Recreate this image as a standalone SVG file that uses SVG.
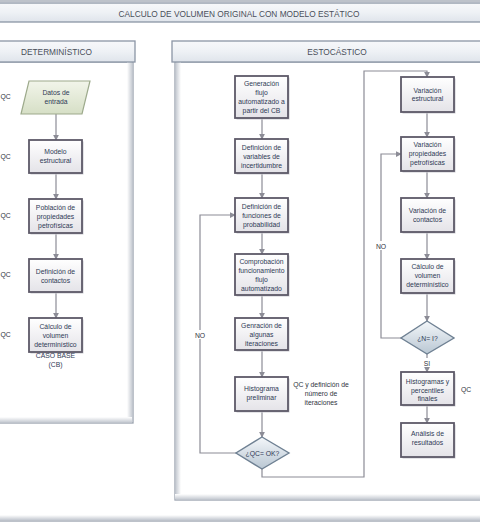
<svg xmlns="http://www.w3.org/2000/svg" width="480" height="527" viewBox="0 0 480 527">
<defs>
<linearGradient id="hdr" x1="0" y1="0" x2="0" y2="1">
<stop offset="0" stop-color="#f7f8fa"/><stop offset="0.5" stop-color="#eef1f5"/><stop offset="1" stop-color="#dfe4eb"/>
</linearGradient>
<linearGradient id="box" x1="0" y1="0" x2="0" y2="1">
<stop offset="0" stop-color="#ffffff"/><stop offset="1" stop-color="#e4e3e8"/>
</linearGradient>
<linearGradient id="para" x1="0" y1="0" x2="0" y2="1">
<stop offset="0" stop-color="#f2f5ea"/><stop offset="1" stop-color="#d6dfc6"/>
</linearGradient>
<linearGradient id="dia" x1="0" y1="0" x2="0" y2="1">
<stop offset="0" stop-color="#f4f7fa"/><stop offset="1" stop-color="#b9c7d3"/>
</linearGradient>
<linearGradient id="edgeR" x1="0" y1="0" x2="1" y2="0">
<stop offset="0" stop-color="#ffffff"/><stop offset="1" stop-color="#c3c8d0"/>
</linearGradient>
<linearGradient id="edgeL" x1="1" y1="0" x2="0" y2="0">
<stop offset="0" stop-color="#ffffff"/><stop offset="1" stop-color="#c3c8d0"/>
</linearGradient>
<linearGradient id="edgeB" x1="0" y1="0" x2="0" y2="1">
<stop offset="0" stop-color="#ffffff"/><stop offset="1" stop-color="#c3c8d0"/>
</linearGradient>
<marker id="arr" viewBox="0 0 8 8" refX="7" refY="4" markerWidth="6" markerHeight="6" orient="auto" markerUnits="userSpaceOnUse">
<path d="M0,0 L8,4 L0,8 z" fill="#8c8c96"/>
</marker>
</defs>
<style>
.hdr{fill:url(#hdr);stroke:#8b95a5;stroke-width:1.3}
.box{fill:url(#box);stroke:#5d5968;stroke-width:1.8}
.shadow{fill:#c9c9cf}
.para{fill:url(#para);stroke:#9daa8c;stroke-width:1.2}
.dia{fill:url(#dia);stroke:#6f8193;stroke-width:1.4}
.t{font-family:"Liberation Sans",Arial,sans-serif;font-size:6.8px;fill:#2f3a55;text-anchor:middle}
.h{font-family:"Liberation Sans",Arial,sans-serif;font-size:8.3px;fill:#4a4f5a;text-anchor:middle}
.l{font-family:"Liberation Sans",Arial,sans-serif;font-size:6.8px;fill:#2f3440;text-anchor:middle}
.q{font-family:"Liberation Sans",Arial,sans-serif;font-size:6.8px;fill:#2f3440;text-anchor:start}
.ca{fill:none;stroke:#8c8c96;stroke-width:1.2;marker-end:url(#arr)}
</style>

<!-- outer frame -->
<g id="outer">
<rect x="-5" y="1" width="490" height="520" fill="#ffffff" stroke="#9aa2ae" stroke-width="1.3"/>
<rect x="-5" y="515" width="490" height="5" fill="url(#edgeB)"/>
<rect x="-5" y="3" width="490" height="19" class="hdr"/>
<text class="h" x="239" y="16.8">CALCULO DE VOLUMEN ORIGINAL CON MODELO ESTÁTICO</text>
</g>

<!-- deterministic panel -->
<g id="panel-det">
<rect x="-5" y="62" width="138" height="361" fill="#ffffff" stroke="#9aa2ae" stroke-width="1.3"/>
<rect x="127" y="62" width="5.5" height="360" fill="url(#edgeR)"/>
<rect x="-5" y="417" width="137" height="5.5" fill="url(#edgeB)"/>
<rect x="-5" y="41" width="140" height="21" class="hdr"/>
<text class="h" x="56.5" y="55">DETERMINÍSTICO</text>
</g>

<!-- stochastic panel -->
<g id="panel-sto">
<rect x="175" y="62" width="310" height="438" fill="#ffffff" stroke="#9aa2ae" stroke-width="1.3"/>
<rect x="175.5" y="62" width="5.5" height="437" fill="url(#edgeL)"/>
<rect x="175" y="494" width="310" height="5.5" fill="url(#edgeB)"/>
<rect x="172" y="41" width="313" height="21" class="hdr"/>
<text class="h" x="337" y="55">ESTOCÁSTICO</text>
</g>

<!-- connectors -->
<g id="connectors">
<path class="ca" d="M56,114 V140"/>
<path class="ca" d="M56,173 V199"/>
<path class="ca" d="M56,233 V259"/>
<path class="ca" d="M56,292 V318"/>

<path class="ca" d="M262,118 V139"/>
<path class="ca" d="M262,173 V198"/>
<path class="ca" d="M262,232 V254"/>
<path class="ca" d="M262,295 V318"/>
<path class="ca" d="M262,350 V377"/>
<path class="ca" d="M262,411 V437"/>
<path class="ca" d="M236,453 H200 V215 H235"/>
<path class="ca" d="M262,469 V477 H364 V71 H427 V77"/>

<path class="ca" d="M427,112 V137"/>
<path class="ca" d="M427,171 V198"/>
<path class="ca" d="M427,232 V259"/>
<path class="ca" d="M427,293 V321"/>
<path class="ca" d="M427,354 V372"/>
<path class="ca" d="M427,405 V423"/>
<path class="ca" d="M401,338 H381 V154 H401"/>

<rect x="193" y="330" width="14" height="9" fill="#ffffff"/>
<text class="l" x="200" y="337.5">NO</text>
<rect x="374" y="241" width="14" height="9" fill="#ffffff"/>
<text class="l" x="381" y="248.5">NO</text>
<rect x="421" y="358" width="12" height="9" fill="#ffffff"/>
<text class="l" x="427" y="365.5">SI</text>
</g>

<!-- deterministic nodes -->
<g id="d-datos">
<polygon class="para" points="29,81 90,81 82,114 21,114"/>
<text class="t" x="56" y="95">Datos de</text>
<text class="t" x="56" y="104">entrada</text>
</g>
<g id="d-modelo">
<rect class="shadow" x="30.5" y="141.5" width="53" height="33"/>
<rect class="box" x="29" y="140" width="53" height="33"/>
<text class="t" x="55.5" y="154">Modelo</text>
<text class="t" x="55.5" y="163">estructural</text>
</g>
<g id="d-poblacion">
<rect class="shadow" x="30.5" y="200.5" width="53" height="34"/>
<rect class="box" x="29" y="199" width="53" height="34"/>
<text class="t" x="55.5" y="210">Población de</text>
<text class="t" x="55.5" y="219">propiedades</text>
<text class="t" x="55.5" y="228">petrofísicas</text>
</g>
<g id="d-contactos">
<rect class="shadow" x="30.5" y="260.5" width="53" height="33"/>
<rect class="box" x="29" y="259" width="53" height="33"/>
<text class="t" x="55.5" y="274">Definición de</text>
<text class="t" x="55.5" y="283">contactos</text>
</g>
<g id="d-calculo">
<rect class="shadow" x="30.5" y="319.5" width="53" height="34"/>
<rect class="box" x="29" y="318" width="53" height="34"/>
<text class="t" x="55.5" y="329">Cálculo de</text>
<text class="t" x="55.5" y="338">volumen</text>
<text class="t" x="55.5" y="347">determinístico</text>
<text class="t" x="55.5" y="357.5">CASO BASE</text>
<text class="t" x="55.5" y="366.5">(CB)</text>
</g>
<g id="d-qc">
<text class="q" x="0.5" y="99">QC</text>
<text class="q" x="0.5" y="159">QC</text>
<text class="q" x="0.5" y="218">QC</text>
<text class="q" x="0.5" y="277">QC</text>
<text class="q" x="0.5" y="337">QC</text>
</g>

<!-- stochastic column 1 -->
<g id="s-generacion">
<rect class="shadow" x="236.5" y="77.5" width="53" height="42"/>
<rect class="box" x="235" y="76" width="53" height="42"/>
<text class="t" x="261.5" y="86">Generación</text>
<text class="t" x="261.5" y="94.5">flujo</text>
<text class="t" x="261.5" y="104">automatizado a</text>
<text class="t" x="261.5" y="113">partir del CB</text>
</g>
<g id="s-variables">
<rect class="shadow" x="236.5" y="140.5" width="53" height="34"/>
<rect class="box" x="235" y="139" width="53" height="34"/>
<text class="t" x="261.5" y="150">Definición de</text>
<text class="t" x="261.5" y="159">variables de</text>
<text class="t" x="261.5" y="168">incertidumbre</text>
</g>
<g id="s-funciones">
<rect class="shadow" x="236.5" y="199.5" width="53" height="34"/>
<rect class="box" x="235" y="198" width="53" height="34"/>
<text class="t" x="261.5" y="208.5">Definición de</text>
<text class="t" x="261.5" y="217.5">funciones de</text>
<text class="t" x="261.5" y="226.5">probabilidad</text>
</g>
<g id="s-comprobacion">
<rect class="shadow" x="236.5" y="255.5" width="53" height="41"/>
<rect class="box" x="235" y="254" width="53" height="41"/>
<text class="t" x="261.5" y="264">Comprobación</text>
<text class="t" x="261.5" y="272.5">funcionamiento</text>
<text class="t" x="261.5" y="281.5">flujo</text>
<text class="t" x="261.5" y="290.5">automatizado</text>
</g>
<g id="s-iteraciones">
<rect class="shadow" x="236.5" y="319.5" width="53" height="32"/>
<rect class="box" x="235" y="318" width="53" height="32"/>
<text class="t" x="261.5" y="327.5">Genración de</text>
<text class="t" x="261.5" y="336.5">algunas</text>
<text class="t" x="261.5" y="345.5">iteraciones</text>
</g>
<g id="s-histograma">
<rect class="shadow" x="236.5" y="378.5" width="53" height="34"/>
<rect class="box" x="235" y="377" width="53" height="34"/>
<text class="t" x="261.5" y="391">Histograma</text>
<text class="t" x="261.5" y="400">preliminar</text>
<text class="l" x="321" y="387">QC y definición de</text>
<text class="l" x="321" y="396">número de</text>
<text class="l" x="321" y="405">iteraciones</text>
</g>
<g id="s-qcok">
<polygon class="dia" points="262,437 289,453 262,469 236,453"/>
<text class="t" x="262.5" y="455.5">¿QC= OK?</text>
</g>

<!-- stochastic column 2 -->
<g id="s-var-estructural">
<rect class="shadow" x="402.5" y="78.5" width="53" height="35"/>
<rect class="box" x="401" y="77" width="53" height="35"/>
<text class="t" x="427.5" y="92.5">Variación</text>
<text class="t" x="427.5" y="100.5">estructural</text>
</g>
<g id="s-var-propiedades">
<rect class="shadow" x="402.5" y="138.5" width="53" height="34"/>
<rect class="box" x="401" y="137" width="53" height="34"/>
<text class="t" x="427.5" y="147">Variación</text>
<text class="t" x="427.5" y="156">propiedades</text>
<text class="t" x="427.5" y="164.5">petrofísicas</text>
</g>
<g id="s-var-contactos">
<rect class="shadow" x="402.5" y="199.5" width="53" height="34"/>
<rect class="box" x="401" y="198" width="53" height="34"/>
<text class="t" x="427.5" y="213">Variación de</text>
<text class="t" x="427.5" y="221.5">contactos</text>
</g>
<g id="s-calculo">
<rect class="shadow" x="402.5" y="260.5" width="53" height="34"/>
<rect class="box" x="401" y="259" width="53" height="34"/>
<text class="t" x="427.5" y="269">Cálculo de</text>
<text class="t" x="427.5" y="278">volumen</text>
<text class="t" x="427.5" y="287">determinístico</text>
</g>
<g id="s-ni">
<polygon class="dia" points="427,321 454,338 427,354 401,338"/>
<text class="t" x="427.5" y="340.5">¿N= I?</text>
</g>
<g id="s-histogramas">
<rect class="shadow" x="402.5" y="373.5" width="53" height="33"/>
<rect class="box" x="401" y="372" width="53" height="33"/>
<text class="t" x="427.5" y="383.5">Histogramas y</text>
<text class="t" x="427.5" y="392.5">percentiles</text>
<text class="t" x="427.5" y="401">finales</text>
<text class="l" x="466" y="391.5">QC</text>
</g>
<g id="s-analisis">
<rect class="shadow" x="402.5" y="424.5" width="53" height="34"/>
<rect class="box" x="401" y="423" width="53" height="34"/>
<text class="t" x="427.5" y="436">Análisis de</text>
<text class="t" x="427.5" y="444.5">resultados</text>
</g>
</svg>
